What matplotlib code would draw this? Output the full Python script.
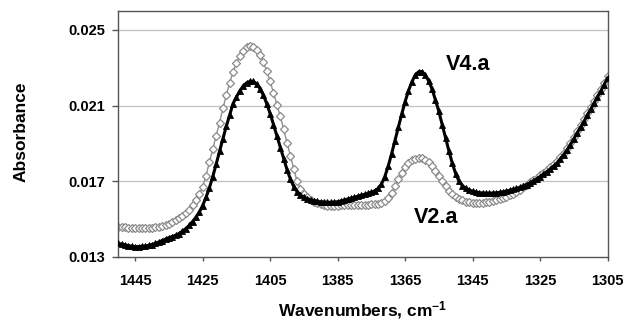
import numpy as np
import matplotlib
matplotlib.use("Agg")
import matplotlib.pyplot as plt

plt.rcParams['font.family'] = ['Liberation Sans', 'DejaVu Sans']
plt.rcParams['font.weight'] = 'bold'
plt.rcParams['mathtext.fontset'] = 'custom'
plt.rcParams['mathtext.rm'] = 'Liberation Sans:bold'
plt.rcParams['mathtext.bf'] = 'Liberation Sans:bold'
plt.rcParams['mathtext.default'] = 'bf'

# wavenumber grid, cm^-1 (1450 -> 1305, one reading per cm^-1)
wavenumbers = np.arange(1450, 1304, -1)

v4a = [
    0.01372, 0.01368, 0.01364, 0.01360, 0.01357, 0.01355, 0.01355, 0.01356, 0.01358, 0.01361,  # 1450-1441
    0.01366, 0.01372, 0.01379, 0.01387, 0.01395, 0.01402, 0.01408, 0.01415, 0.01424, 0.01436,  # 1440-1431
    0.01450, 0.01467, 0.01487, 0.01510, 0.01537, 0.01572, 0.01615, 0.01665, 0.01725, 0.01790,  # 1430-1421
    0.01858, 0.01925, 0.01990, 0.02050, 0.02110, 0.02145, 0.02178, 0.02203, 0.02220, 0.02228,  # 1420-1411
    0.02228, 0.02215, 0.02190, 0.02155, 0.02110, 0.02058, 0.02000, 0.01940, 0.01878, 0.01818,  # 1410-1401
    0.01762, 0.01712, 0.01672, 0.01645, 0.01628, 0.01617, 0.01609, 0.01602, 0.01597, 0.01594,  # 1400-1391
    0.01591, 0.01590, 0.01589, 0.01589, 0.01590, 0.01592, 0.01596, 0.01601, 0.01606, 0.01611,  # 1390-1381
    0.01616, 0.01621, 0.01626, 0.01631, 0.01636, 0.01642, 0.01650, 0.01662, 0.01685, 0.01725,  # 1380-1371
    0.01780, 0.01845, 0.01915, 0.01985, 0.02055, 0.02120, 0.02178, 0.02225, 0.02260, 0.02279,  # 1370-1361
    0.02280, 0.02262, 0.02230, 0.02188, 0.02130, 0.02070, 0.02000, 0.01930, 0.01860, 0.01795,  # 1360-1351
    0.01740, 0.01700, 0.01677, 0.01663, 0.01654, 0.01648, 0.01643, 0.01640, 0.01638, 0.01637,  # 1350-1341
    0.01637, 0.01638, 0.01639, 0.01641, 0.01644, 0.01648, 0.01652, 0.01657, 0.01662, 0.01668,  # 1340-1331
    0.01675, 0.01683, 0.01692, 0.01702, 0.01713, 0.01725, 0.01738, 0.01751, 0.01765, 0.01780,  # 1330-1321
    0.01796, 0.01818, 0.01841, 0.01866, 0.01894, 0.01925, 0.01955, 0.01985, 0.02016, 0.02048,  # 1320-1311
    0.02080, 0.02112, 0.02144, 0.02177, 0.02211, 0.02245,                                      # 1310-1305
]

v2a = [
    0.01460, 0.01458, 0.01456, 0.01455, 0.01454, 0.01453, 0.01453, 0.01452, 0.01452, 0.01453,  # 1450-1441
    0.01454, 0.01456, 0.01459, 0.01463, 0.01469, 0.01476, 0.01484, 0.01493, 0.01504, 0.01517,  # 1440-1431
    0.01533, 0.01551, 0.01573, 0.01600, 0.01632, 0.01670, 0.01730, 0.01800, 0.01870, 0.01940,  # 1430-1421
    0.02010, 0.02085, 0.02155, 0.02220, 0.02278, 0.02325, 0.02363, 0.02391, 0.02408, 0.02414,  # 1420-1411
    0.02410, 0.02395, 0.02368, 0.02330, 0.02282, 0.02228, 0.02168, 0.02105, 0.02045, 0.01975,  # 1410-1401
    0.01905, 0.01835, 0.01766, 0.01700, 0.01660, 0.01635, 0.01618, 0.01603, 0.01592, 0.01584,  # 1400-1391
    0.01578, 0.01574, 0.01572, 0.01571, 0.01571, 0.01572, 0.01573, 0.01574, 0.01575, 0.01575,  # 1390-1381
    0.01575, 0.01575, 0.01575, 0.01576, 0.01577, 0.01578, 0.01579, 0.01581, 0.01585, 0.01595,  # 1380-1371
    0.01612, 0.01640, 0.01675, 0.01710, 0.01745, 0.01775, 0.01798, 0.01812, 0.01820, 0.01823,  # 1370-1361
    0.01822, 0.01815, 0.01800, 0.01780, 0.01755, 0.01728, 0.01700, 0.01673, 0.01650, 0.01632,  # 1360-1351
    0.01618, 0.01607, 0.01599, 0.01593, 0.01590, 0.01588, 0.01587, 0.01587, 0.01588, 0.01590,  # 1350-1341
    0.01593, 0.01597, 0.01601, 0.01606, 0.01612, 0.01618, 0.01626, 0.01635, 0.01645, 0.01656,  # 1340-1331
    0.01668, 0.01681, 0.01694, 0.01706, 0.01718, 0.01731, 0.01745, 0.01759, 0.01774, 0.01790,  # 1330-1321
    0.01808, 0.01828, 0.01850, 0.01875, 0.01903, 0.01933, 0.01964, 0.01995, 0.02027, 0.02059,  # 1320-1311
    0.02091, 0.02123, 0.02155, 0.02188, 0.02222, 0.02256,                                      # 1310-1305
]

x_ticks = [1445, 1425, 1405, 1385, 1365, 1345, 1325, 1305]
y_ticks = [0.013, 0.017, 0.021, 0.025]
series_labels = ["V4.a", "V2.a"]

W, H = 626, 327
fig = plt.figure(figsize=(W / 100, H / 100), dpi=100)
ax = fig.add_axes([118.3 / W, 1 - 257 / H, (607.5 - 118.3) / W, (257 - 11) / H])

ax.set_xlim(1450, 1305)
ax.set_ylim(0.013, 0.026)

for yv in y_ticks[1:]:
    ax.axhline(yv, color='#c4c4c4', lw=1.0, zorder=0)

ax.plot(wavenumbers, v2a, color='#909090', lw=1.0, marker='D', ms=3.8,
        mfc='white', mec='#8a8a8a', mew=0.9, zorder=2)
ax.plot(wavenumbers, v4a, color='black', lw=2.2, marker='^', ms=4.8,
        mfc='black', mec='black', mew=0.6, zorder=3)

ax.text(1346.4, 0.02316, series_labels[0], fontsize=15.5, fontweight='bold',
        ha='center', va='center')
ax.text(1355.9, 0.01509, series_labels[1], fontsize=15.5, fontweight='bold',
        ha='center', va='center')

ax.set_xticks(x_ticks)
ax.set_xticklabels([str(t) for t in x_ticks])
ax.set_yticks(y_ticks)
ax.set_yticklabels([f"{t:.3f}" for t in y_ticks])
ax.tick_params(axis='x', direction='out', length=3, width=1, color='#555555',
               labelsize=10.5, pad=9)
ax.tick_params(axis='y', direction='out', length=4.5, width=1, color='#555555',
               labelsize=10.5, pad=5)
for lab in ax.get_xticklabels() + ax.get_yticklabels():
    lab.set_fontweight('bold')

for sp in ax.spines.values():
    sp.set_color('#555555')
    sp.set_linewidth(1.0)

ax.set_xlabel("Wavenumbers, cm$^{-1}$", fontsize=12.5, fontweight='bold')
ax.set_ylabel("Absorbance", fontsize=12.5, fontweight='bold')
ax.xaxis.set_label_coords(0.5, -0.17)
ax.yaxis.set_label_coords(-0.184, 0.51)

fig.savefig("out.png", dpi=100)
